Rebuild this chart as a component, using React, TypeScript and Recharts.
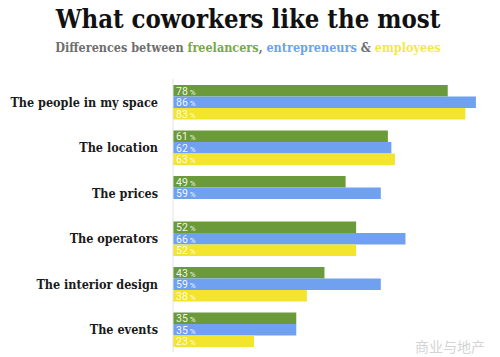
import { BarChart, Bar, XAxis, YAxis, LabelList } from 'recharts';

const categories = [
  'The people in my space',
  'The location',
  'The prices',
  'The operators',
  'The interior design',
  'The events',
];
const freelancers = [78, 61, 49, 52, 43, 35];
const entrepreneurs = [86, 62, 59, 66, 59, 35];
const employees: (number | null)[] = [83, 63, null, 52, 38, 23];

const series = [
  { key: 'freelancers', color: '#6a9a3a', values: freelancers },
  { key: 'entrepreneurs', color: '#6fa1f0', values: entrepreneurs },
  { key: 'employees', color: '#f3e42d', values: employees },
];

const data = categories.map((name, i) => ({
  name,
  freelancers: freelancers[i],
  entrepreneurs: entrepreneurs[i],
  employees: employees[i],
}));

const serif = '"DejaVu Serif Condensed", "DejaVu Serif", serif';

function CategoryTick({ x, y, payload }: any) {
  return (
    <text x={x} y={y} dy={5} textAnchor="end" fontFamily={serif} fontWeight="bold" fontSize={12.5} fill="#1a1a1a">
      {payload.value}
    </text>
  );
}

function ValueLabel({ x, y, height, value }: any) {
  if (value == null) return null;
  return (
    <text x={x + 3} y={y + height / 2 + 4} fontFamily="Roboto, sans-serif" fontSize={10.5} fill="#ffffff" fillOpacity={0.92}>
      {value}
      <tspan fontSize={8}> %</tspan>
    </text>
  );
}

export default function App() {
  return (
    <div style={{ position: 'absolute', left: 0, top: 0, width: 500, height: 357, background: '#fff', overflow: 'hidden' }}>
      <BarChart
        width={500}
        height={357}
        data={data}
        layout="vertical"
        margin={{ top: 79, right: 10, bottom: 5, left: 0 }}
        barCategoryGap={11}
        barGap={0}
        barSize={11.5}
      >
        <XAxis type="number" domain={[0, 90]} hide />
        <YAxis
          type="category"
          dataKey="name"
          width={173}
          tickLine={false}
          tickSize={0}
          tickMargin={15}
          axisLine={{ stroke: '#e2e2e2' }}
          tick={<CategoryTick />}
        />
        {series.map(s => (
          <Bar key={s.key} dataKey={s.key} fill={s.color} isAnimationActive={false}>
            <LabelList dataKey={s.key} content={<ValueLabel />} />
          </Bar>
        ))}
      </BarChart>
      <svg width={500} height={357} style={{ position: 'absolute', left: 0, top: 0, pointerEvents: 'none' }}>
        <text x={248} y={28} textAnchor="middle" fontFamily={serif} fontWeight="bold" fontSize={25.5} fill="#111">
          What coworkers like the most
        </text>
        <text x={248} y={52} textAnchor="middle" fontFamily={serif} fontWeight="bold" fontSize={12.5} fill="#6e6e6e">
          Differences between <tspan fill="#78a84a">freelancers</tspan>, <tspan fill="#6fa1f0">entrepreneurs</tspan> &amp;{' '}
          <tspan fill="#f3e84a">employees</tspan>
        </text>
        <text x={415} y={352} fontFamily='"Noto Sans CJK SC", sans-serif' fontSize={14} fill="#d4d4d4">
          商业与地产
        </text>
      </svg>
    </div>
  );
}
